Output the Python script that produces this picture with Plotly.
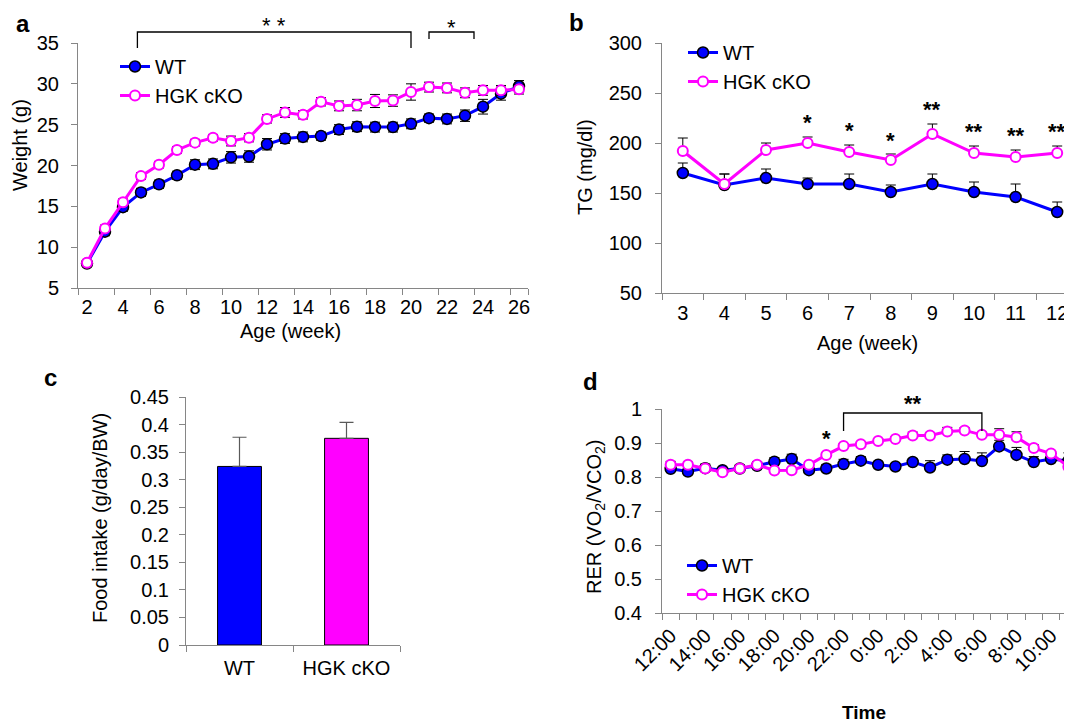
import plotly.graph_objects as go

W, H = 1072, 722
OFF = 8  # page body margin in the browser
FONT = "Arial, Liberation Sans, sans-serif"
BLUE = "#0000FF"
MAGENTA = "#FF00FF"
AXIS = "#868686"

# ---------------- data ----------------
# Panel a: body weight
weeks = list(range(2, 27))
wt_weight = [8.0, 11.9, 14.9, 16.7, 17.7, 18.8, 20.1, 20.2, 21.0, 21.1, 22.6, 23.3, 23.5,
             23.6, 24.4, 24.75, 24.7, 24.7, 25.1, 25.8, 25.7, 26.1, 27.2, 28.8, 29.7]
wt_weight_err = [0.3, 0.5, 0.5, 0.5, 0.5, 0.5, 0.6, 0.6, 0.7, 0.7, 0.7, 0.6, 0.6,
                 0.5, 0.6, 0.6, 0.6, 0.6, 0.6, 0.5, 0.6, 0.7, 0.9, 0.8, 0.7]
hgk_weight = [8.1, 12.3, 15.5, 18.7, 20.1, 21.9, 22.8, 23.4, 23.0, 23.4, 25.7, 26.5, 26.2,
              27.8, 27.3, 27.4, 27.9, 27.95, 29.0, 29.6, 29.5, 28.9, 29.2, 29.2, 29.35]
hgk_weight_err = [0.3, 0.4, 0.4, 0.4, 0.4, 0.4, 0.4, 0.4, 0.6, 0.5, 0.5, 0.6, 0.5,
                  0.5, 0.6, 0.7, 0.8, 0.7, 1.0, 0.6, 0.6, 0.6, 0.6, 0.6, 0.6]
weight_ticks = [2, 4, 6, 8, 10, 12, 14, 16, 18, 20, 22, 24, 26]
weight_brackets = [(4.8, 20.0, "* *"), (21.0, 23.5, "*")]

# Panel b: TG
tg_weeks = [3, 4, 5, 6, 7, 8, 9, 10, 11, 12]
wt_tg = [170, 158, 165, 159, 159, 151, 159, 151, 146, 131]
wt_tg_err = [10, 11, 9, 6, 10, 7, 10, 10, 13, 10]
hgk_tg = [192, 159, 193, 200, 191, 183, 209, 190, 186, 190]
hgk_tg_err = [13, 10, 7, 6, 7, 6, 10, 7, 7, 7]
tg_sig = ["", "", "", "*", "*", "*", "**", "**", "**", "**"]

# Panel c: food intake
groups = ["WT", "HGK cKO"]
intake = [0.324, 0.375]
intake_err = [0.053, 0.029]

# Panel d: RER
times = ["12:00", "13:00", "14:00", "15:00", "16:00", "17:00", "18:00", "19:00",
         "20:00", "21:00", "22:00", "23:00", "0:00", "1:00", "2:00", "3:00",
         "4:00", "5:00", "6:00", "7:00", "8:00", "9:00", "10:00", "11:00"]
wt_rer = [0.824, 0.816, 0.826, 0.820, 0.825, 0.833, 0.845, 0.853, 0.820, 0.825, 0.838, 0.848,
          0.836, 0.831, 0.844, 0.828, 0.851, 0.853, 0.847, 0.890, 0.865, 0.844, 0.853, 0.847]
wt_rer_err = [0.010, 0.008, 0.012, 0.008, 0.010, 0.012, 0.012, 0.014, 0.010, 0.012, 0.014, 0.012,
              0.008, 0.008, 0.010, 0.020, 0.014, 0.022, 0.024, 0.018, 0.022, 0.016, 0.018, 0.024]
hgk_rer = [0.836, 0.836, 0.825, 0.814, 0.825, 0.836, 0.819, 0.820, 0.836, 0.865, 0.891, 0.896,
           0.906, 0.912, 0.922, 0.922, 0.934, 0.937, 0.924, 0.924, 0.917, 0.885, 0.869, 0.830]
hgk_rer_err = [0.010, 0.008, 0.012, 0.006, 0.010, 0.008, 0.006, 0.006, 0.008, 0.006, 0.006, 0.006,
               0.006, 0.006, 0.010, 0.008, 0.012, 0.008, 0.008, 0.018, 0.016, 0.010, 0.006, 0.008]
rer_bracket = (10, 18, "**")
rer_single = (9, "*")

# ---------------- layout helpers (screen pixels -> paper) ----------------
def px_x(p):
    return (p - OFF) / W

def px_y(p):
    return (H - (p - OFF)) / H

# subplot boxes in screen pixels (left, right, top, bottom)
A = (78, 528, 43, 288)
B = (662, 1078, 43, 293)
C = (186, 400, 397, 645)
D = (662, 1077, 409, 613)
RA = [1.5, 26.5]
RB = [2.5, 12.5]
RC = [-0.5, 1.5]
RD = [-0.5, 23.5]

def dom(box):
    return [px_x(box[0]), px_x(box[1])], [px_y(box[3]), px_y(box[2])]

fig = go.Figure()

tickfont = dict(family=FONT, size=20, color="#000000")


def line_trace(x, y, err, name, xa, ya, legend, filled, symmetric=True):
    color = BLUE if filled else MAGENTA
    err_kw = dict(type="data", array=err, visible=True, color="#000000",
                  thickness=1, width=5)
    if not symmetric:
        err_kw["symmetric"] = False
        err_kw["arrayminus"] = [0] * len(err)
    return go.Scatter(
        x=x, y=y, name=name, mode="lines+markers", xaxis=xa, yaxis=ya,
        legend=legend, showlegend=True,
        line=dict(color=color, width=3),
        marker=dict(size=11 if filled else 10, symbol="circle",
                    color=BLUE if filled else "#FFFFFF",
                    line=dict(color="#000000" if filled else MAGENTA, width=1.5 if filled else 2)),
        error_y=err_kw,
    )

# Panel a
fig.add_trace(line_trace(weeks, wt_weight, wt_weight_err, "WT", "x", "y", "legend", True))
fig.add_trace(line_trace(weeks, hgk_weight, hgk_weight_err, "HGK cKO", "x", "y", "legend", False))
# Panel b
fig.add_trace(line_trace(tg_weeks, wt_tg, wt_tg_err, "WT", "x2", "y2", "legend2", True, False))
fig.add_trace(line_trace(tg_weeks, hgk_tg, hgk_tg_err, "HGK cKO", "x2", "y2", "legend2", False, False))
# Panel c
fig.add_trace(go.Bar(
    x=[0, 1], y=intake, xaxis="x3", yaxis="y3", width=0.41, showlegend=False,
    marker=dict(color=[BLUE, MAGENTA], line=dict(color="#000000", width=1)),
    error_y=dict(type="data", array=intake_err, symmetric=False, arrayminus=[0, 0],
                 color="#595959", thickness=1.2, width=7),
))
# Panel d
xd = list(range(len(times)))
fig.add_trace(line_trace(xd, wt_rer, wt_rer_err, "WT", "x4", "y4", "legend3", True, False))
fig.add_trace(line_trace(xd, hgk_rer, hgk_rer_err, "HGK cKO", "x4", "y4", "legend3", False, False))

# ---------------- axes ----------------
common_x = dict(showline=True, linecolor=AXIS, linewidth=1, showgrid=False, zeroline=False,
                tickfont=tickfont, ticks="", fixedrange=True, automargin=False)
common_y = dict(showline=True, linecolor=AXIS, linewidth=1, showgrid=False, zeroline=False,
                tickfont=tickfont, ticks="outside", ticklen=6, tickcolor=AXIS, tickwidth=1,
                automargin=False)

dxa, dya = dom(A)
dxb, dyb = dom(B)
dxc, dyc = dom(C)
dxd, dyd = dom(D)

fig.update_layout(
    xaxis=dict(common_x, domain=dxa, range=RA, anchor="y",
               tickmode="array", tickvals=weight_ticks, ticktext=[str(v) for v in weight_ticks],
               ticklabelstandoff=1,
               minor=dict(tickmode="array", tickvals=[w - 0.5 for w in weeks if w % 2 == 0] + [26.5],
                          ticks="outside", ticklen=6, tickcolor=AXIS)),
    yaxis=dict(common_y, domain=dya, range=[5, 35], dtick=5, anchor="x", ticklabelstandoff=8),
    xaxis2=dict(common_x, domain=dxb, range=RB, anchor="y2",
                tickmode="array", tickvals=tg_weeks, ticktext=[str(v) for v in tg_weeks],
                ticklabelstandoff=2,
                minor=dict(tickmode="array", tickvals=[w - 0.5 for w in tg_weeks] + [12.5],
                           ticks="outside", ticklen=6, tickcolor=AXIS)),
    yaxis2=dict(common_y, domain=dyb, range=[50, 300], dtick=50, anchor="x2", ticklabelstandoff=9),
    xaxis3=dict(common_x, domain=dxc, range=RC, anchor="y3",
                tickmode="array", tickvals=[0, 1], ticktext=groups, ticklabelstandoff=5,
                minor=dict(tickmode="array", tickvals=[-0.5, 0.5, 1.5],
                           ticks="outside", ticklen=6, tickcolor=AXIS)),
    yaxis3=dict(common_y, domain=dyc, range=[0, 0.45], dtick=0.05, anchor="x3",
                ticklabelstandoff=6, tickformat="~g"),
    xaxis4=dict(common_x, domain=dxd, range=RD, anchor="y4",
                tickmode="array", tickvals=xd[::2], ticktext=times[::2], tickangle=-45,
                ticklabelstandoff=2,
                minor=dict(tickmode="array", tickvals=[i - 0.5 for i in xd] + [23.5],
                           ticks="outside", ticklen=6, tickcolor=AXIS)),
    yaxis4=dict(common_y, domain=dyd, range=[0.4, 1.0], dtick=0.1, anchor="x4",
                ticklabelstandoff=9, tickformat="~g"),
)

# ---------------- legends ----------------
leg_common = dict(font=dict(family=FONT, size=20, color="#000000"), bgcolor="rgba(0,0,0,0)",
                  xanchor="left", yanchor="top", tracegroupgap=0, itemwidth=30,
                  traceorder="normal")
fig.update_layout(
    legend=dict(leg_common, x=px_x(115), y=px_y(47)),
    legend2=dict(leg_common, x=px_x(683), y=px_y(33)),
    legend3=dict(leg_common, x=px_x(682), y=px_y(546)),
)

# ---------------- text / annotations ----------------
ann = []
shapes = []


def label(text, x, y, size=20, bold=False, angle=0, xanchor="center", yanchor="middle"):
    ann.append(dict(text=f"<b>{text}</b>" if bold else text, x=px_x(x), y=px_y(y),
                    xref="paper", yref="paper", showarrow=False, textangle=angle,
                    xanchor=xanchor, yanchor=yanchor,
                    font=dict(family=FONT, size=size, color="#000000")))

# panel letters
label("a", 23, 23, size=24, bold=True)
label("b", 576, 22, size=24, bold=True)
label("c", 50, 377, size=24, bold=True)
label("d", 590, 381, size=24, bold=True)

# axis titles
label("Weight (g)", 20, 145, angle=-90)
label("Age (week)", 290, 331)
label("TG (mg/dl)", 585, 167, angle=-90)
label("Age (week)", 867, 343)
label("Food intake (g/day/BW)", 100, 518, angle=-90)
label("RER (VO<sub>2</sub>/VCO<sub>2</sub>)", 595, 517, angle=-90)
label("Time", 864, 712, size=19, bold=True)


def ax_to_px(box, rng, v):
    return box[0] + (v - rng[0]) / (rng[1] - rng[0]) * (box[1] - box[0])


def bracket(x0, x1, ytop, yleg0, yleg1):
    shapes.append(dict(type="path", xref="paper", yref="paper",
                       path=f"M {px_x(x0)},{px_y(yleg0)} L {px_x(x0)},{px_y(ytop)} "
                            f"L {px_x(x1)},{px_y(ytop)} L {px_x(x1)},{px_y(yleg1)}",
                       line=dict(color="#000000", width=1.3)))

# panel a brackets
(b0s, b0e, b0t), (b1s, b1e, b1t) = weight_brackets
xa0, xa1 = ax_to_px(A, RA, b0s), ax_to_px(A, RA, b0e)
bracket(xa0, xa1, 32, 48, 48)
label(b0t, (xa0 + xa1) / 2, 26, size=22)
xb0, xb1 = ax_to_px(A, RA, b1s), ax_to_px(A, RA, b1e)
bracket(xb0, xb1, 32, 39, 39)
label(b1t, (xb0 + xb1) / 2, 28, size=22)

# panel b stars
for wk, h, e, s in zip(tg_weeks, hgk_tg, hgk_tg_err, tg_sig):
    if s:
        ann.append(dict(text=f"<b>{s}</b>", x=wk, y=h + e + 14, xref="x2", yref="y2",
                        showarrow=False, font=dict(family=FONT, size=22, color="#000000")))

# panel d bracket and star
xd0, xd1 = ax_to_px(D, RD, rer_bracket[0]), ax_to_px(D, RD, rer_bracket[1])
bracket(xd0, xd1, 413, 431, 431)
label(f"<b>{rer_bracket[2]}</b>", (xd0 + xd1) / 2, 403, size=22)
ann.append(dict(text=f"<b>{rer_single[1]}</b>", x=rer_single[0], y=0.912, xref="x4", yref="y4",
                showarrow=False, font=dict(family=FONT, size=22, color="#000000")))

fig.update_layout(
    annotations=ann, shapes=shapes,
    width=W, height=H, margin=dict(l=0, r=0, t=0, b=0),
    paper_bgcolor="#FFFFFF", plot_bgcolor="#FFFFFF",
    font=dict(family=FONT, size=20, color="#000000"),
    barmode="overlay",
)

fig.write_html("out.html")
